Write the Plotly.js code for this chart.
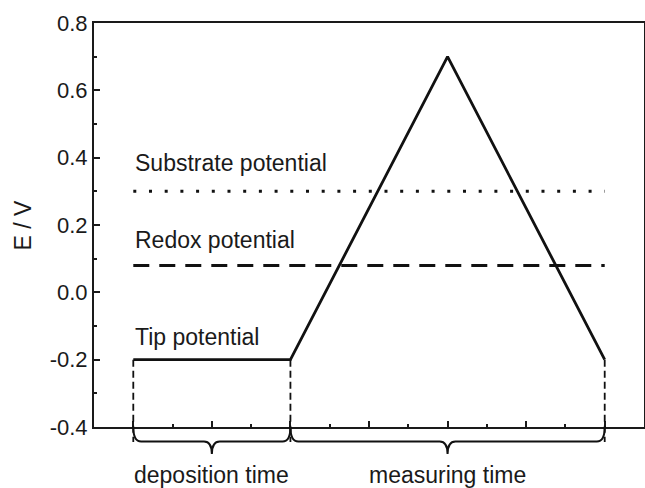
<!DOCTYPE html>
<html>
<head>
<meta charset="utf-8">
<script src="https://cdn.plot.ly/plotly-3.0.1.min.js"></script>
<style>
  html, body { margin: 0; padding: 0; background: #fff; }
  #chart { width: 645px; height: 488px; }
</style>
</head>
<body>
<div id="chart"></div>
<script>
// Tip potential program: hold during deposition, then a triangular sweep
const tipTime = [1, 3, 5, 7];
const tipPotential = [-0.2, -0.2, 0.7, -0.2];

// Constant reference levels drawn across the experiment
const levelTime = [1, 7];
const substratePotential = 0.3;
const redoxPotential = 0.08;

// Phase boundaries on the time axis and the phase names
const phaseBounds = [1, 3, 7];
const phaseNames = ['deposition time', 'measuring time'];

// Potential axis ticks
const yTickVals = [-0.4, -0.2, 0.0, 0.2, 0.4, 0.6, 0.8];
const yTickText = ['-0.4', '-0.2', '0.0', '0.2', '0.4', '0.6', '0.8'];

const yRange = [-0.4, 0.8];
const xRange = [0.5, 7.5];
const toPaperY = v => (v - yRange[0]) / (yRange[1] - yRange[0]);

const ink = '#111';
const font = { family: 'Liberation Sans, Arial, sans-serif', size: 23, color: '#1a1a1a' };

const traces = [
  {
    x: levelTime, y: levelTime.map(() => substratePotential),
    mode: 'lines', line: { color: ink, width: 3, dash: '3px,12.7px' }, hoverinfo: 'skip'
  },
  {
    x: levelTime, y: levelTime.map(() => redoxPotential),
    mode: 'lines', line: { color: ink, width: 3, dash: '16px,10px' }, hoverinfo: 'skip'
  },
  {
    x: tipTime, y: tipPotential,
    mode: 'lines', line: { color: ink, width: 2.8 }, hoverinfo: 'skip'
  }
];

// Vertical dashed markers from the tip trace down past the time axis
const dropBottom = -0.037;
const shapes = phaseBounds.map(t => ({
  type: 'line', xref: 'x', yref: 'paper',
  x0: t, x1: t,
  y0: toPaperY(tipPotential[tipTime.indexOf(t)]), y1: dropBottom,
  line: { color: ink, width: 1.8, dash: '7px,4px' }
}));

// Curly braces spanning each phase below the axis
const braceFlat = -0.036, braceTip = -0.067, braceR = 0.1;
for (let i = 0; i < phaseNames.length; i++) {
  const a = phaseBounds[i], b = phaseBounds[i + 1], m = (a + b) / 2;
  const path = [
    `M ${a},0`,
    `Q ${a},${braceFlat} ${a + braceR},${braceFlat}`,
    `L ${m - braceR},${braceFlat}`,
    `Q ${m},${braceFlat} ${m},${braceTip}`,
    `Q ${m},${braceFlat} ${m + braceR},${braceFlat}`,
    `L ${b - braceR},${braceFlat}`,
    `Q ${b},${braceFlat} ${b},0`
  ].join(' ');
  shapes.push({ type: 'path', xref: 'x', yref: 'paper', path, line: { color: ink, width: 2 } });
}

const annotations = [
  { x: levelTime[0], y: 0.385, xref: 'x', yref: 'y', text: 'Substrate potential', xanchor: 'left', yanchor: 'middle', showarrow: false, font },
  { x: levelTime[0], y: 0.156, xref: 'x', yref: 'y', text: 'Redox potential', xanchor: 'left', yanchor: 'middle', showarrow: false, font },
  { x: tipTime[0], y: -0.132, xref: 'x', yref: 'y', text: 'Tip potential', xanchor: 'left', yanchor: 'middle', showarrow: false, font },
  { x: -0.13, y: 0.5, xref: 'paper', yref: 'paper', text: 'E / V', textangle: -90, xanchor: 'center', yanchor: 'middle', showarrow: false, font }
];
phaseNames.forEach((name, i) => {
  annotations.push({
    x: (phaseBounds[i] + phaseBounds[i + 1]) / 2, y: -0.12, xref: 'x', yref: 'paper',
    text: name, xanchor: 'center', yanchor: 'middle', showarrow: false, font
  });
});

const axisCommon = {
  showgrid: false, zeroline: false, showline: true, mirror: true,
  linecolor: '#1a1a1a', linewidth: 2,
  ticks: 'inside', ticklen: 6, tickwidth: 2, tickcolor: '#1a1a1a'
};

const layout = {
  width: 645, height: 488,
  margin: { l: 94, r: 1, t: 23, b: 61 },
  paper_bgcolor: '#fff', plot_bgcolor: '#fff',
  showlegend: false,
  font,
  xaxis: Object.assign({}, axisCommon, {
    range: xRange, tickmode: 'linear', tick0: 1, dtick: 1, showticklabels: false,
    minor: { tickmode: 'linear', tick0: 0.5, dtick: 0.5, ticks: 'inside', ticklen: 3, tickwidth: 2, tickcolor: '#1a1a1a' }
  }),
  yaxis: Object.assign({}, axisCommon, {
    range: yRange, tickmode: 'array', tickvals: yTickVals, ticktext: yTickText,
    tickfont: { family: font.family, size: 22, color: '#1a1a1a' },
    minor: { tickmode: 'linear', tick0: -0.4, dtick: 0.1, ticks: 'inside', ticklen: 3, tickwidth: 2, tickcolor: '#1a1a1a' }
  }),
  shapes, annotations
};

Plotly.newPlot('chart', traces, layout, { staticPlot: true, displayModeBar: false });
</script>
</body>
</html>
